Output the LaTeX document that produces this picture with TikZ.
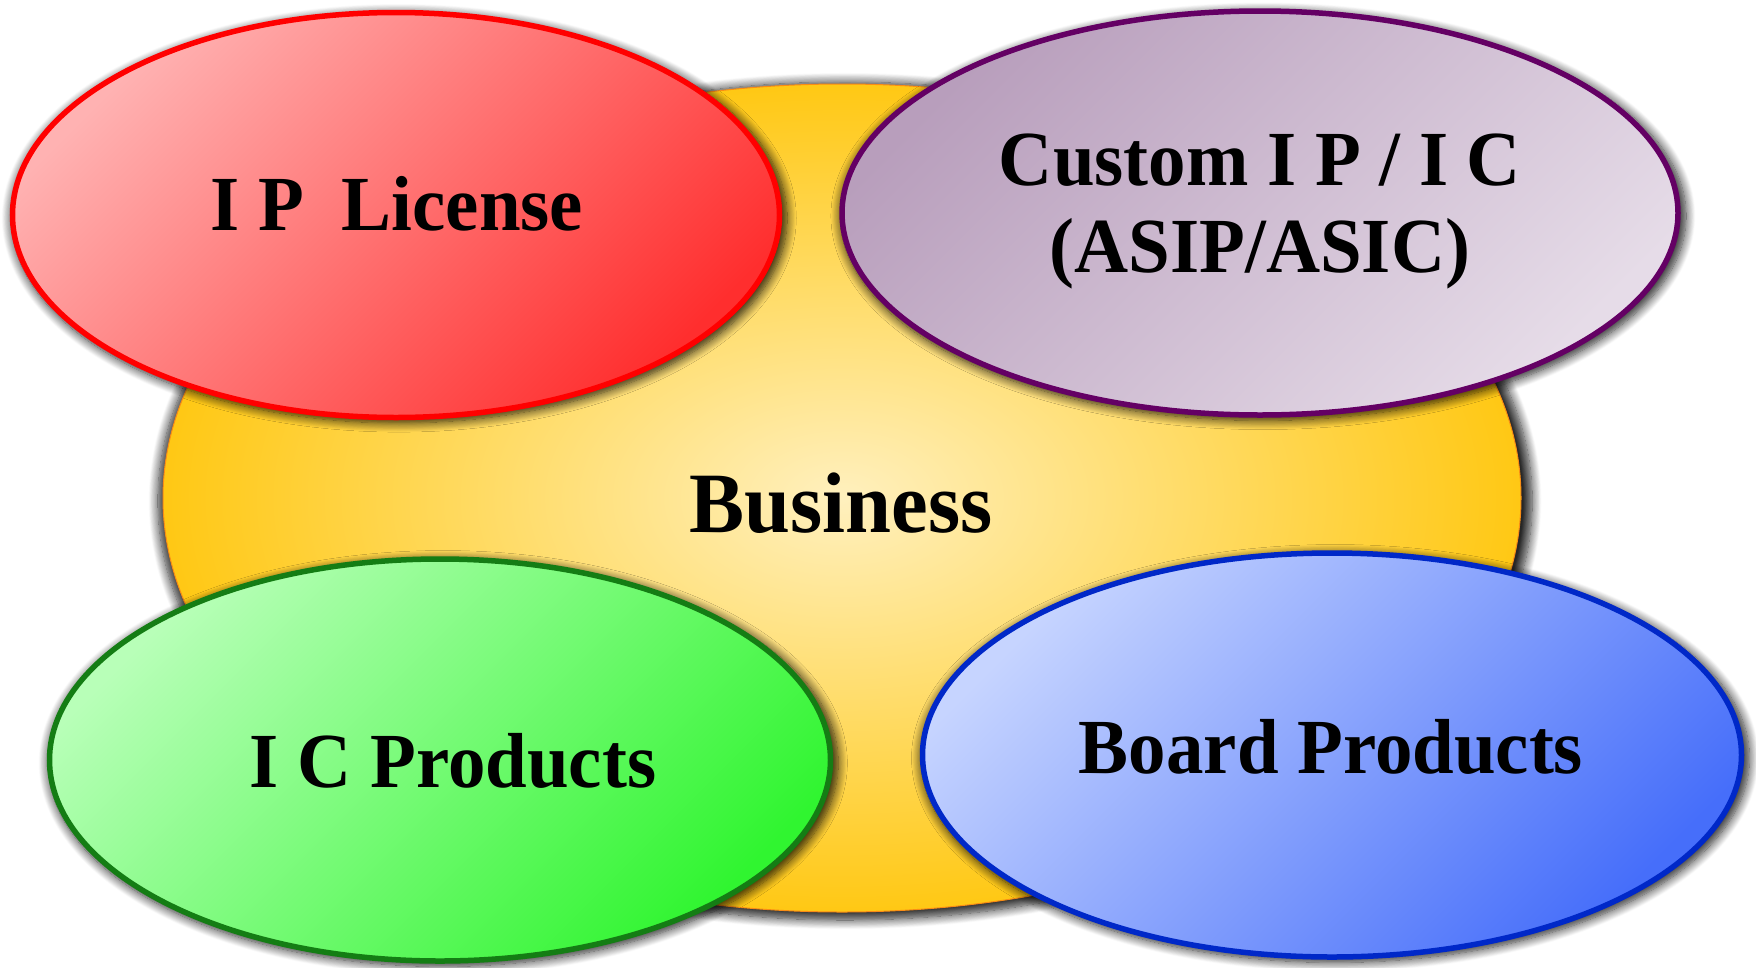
\documentclass[tikz,border=0pt]{standalone}
\usepackage{fontspec}
\newfontfamily\lblfont{Liberation Serif}[FakeStretch=0.96]
\usetikzlibrary{positioning,shapes.geometric,shadows.blur}
\definecolor{busIn}{RGB}{255,240,190}
\definecolor{busOut}{RGB}{255,200,20}
\definecolor{busLine}{RGB}{250,140,20}
\definecolor{iplLight}{RGB}{255,178,178}
\definecolor{iplDark}{RGB}{255,46,46}
\definecolor{custDark}{RGB}{184,158,188}
\definecolor{custLight}{RGB}{230,220,232}
\definecolor{custLine}{RGB}{100,0,100}
\definecolor{icpLight}{RGB}{184,255,184}
\definecolor{icpDark}{RGB}{48,245,48}
\definecolor{icpLine}{RGB}{20,125,20}
\definecolor{brdLight}{RGB}{198,212,255}
\definecolor{brdDark}{RGB}{70,110,250}
\definecolor{brdLine}{RGB}{0,40,200}
\tikzset{
  blob/.style={ellipse,inner sep=0pt,outer sep=0pt,line width=5.5pt,
    blur shadow={shadow xshift=3pt,shadow yshift=-3pt,shadow scale=1.012,
      shadow blur radius=9pt,shadow blur steps=12,shadow opacity=85}},
  lbl/.style={anchor=base,align=center,font=\lblfont\bfseries\fontsize{78}{87}\selectfont}
}
\begin{document}
\begin{tikzpicture}[x=1pt,y=-1pt]
\useasboundingbox (0,0) rectangle (1756,967);
\coordinate (B) at (842,498);
\coordinate (L) at (396,215);
\coordinate (C) at (1260,213);
\coordinate (P) at (440,760);
\coordinate (D) at (1332,755);
\node[blob,line width=1pt,draw=busLine,inner color=busIn,outer color=busOut,
  minimum width=1358pt,minimum height=828pt] (bus) at (B) {};
\node[blob,draw=red,top color=iplLight,bottom color=iplDark,shading angle=45,
  minimum width=767pt,minimum height=405pt] (ipl) at (L) {};
\node[blob,draw=custLine,top color=custDark,bottom color=custLight,shading angle=45,
  minimum width=836pt,minimum height=404pt] (cust) at (C) {};
\node[blob,draw=icpLine,top color=icpLight,bottom color=icpDark,shading angle=45,
  minimum width=781pt,minimum height=402pt] (icp) at (P) {};
\node[blob,draw=brdLine,top color=brdLight,bottom color=brdDark,shading angle=45,
  minimum width=819pt,minimum height=404pt] (brd) at (D) {};
\node[lbl,font=\lblfont\bfseries\fontsize{86}{96}\selectfont] (busText) at (841,532) {Business};
\node[lbl] (iplText) at (397,230) {I P~ License};
\node[lbl] (custText) at (1260,272) {Custom I P / I C\\(ASIP/ASIC)};
\node[lbl] (icpText) at (453,787) {I C Products};
\node[lbl] (brdText) at (1331,773) {Board Products};
\end{tikzpicture}
\end{document}
